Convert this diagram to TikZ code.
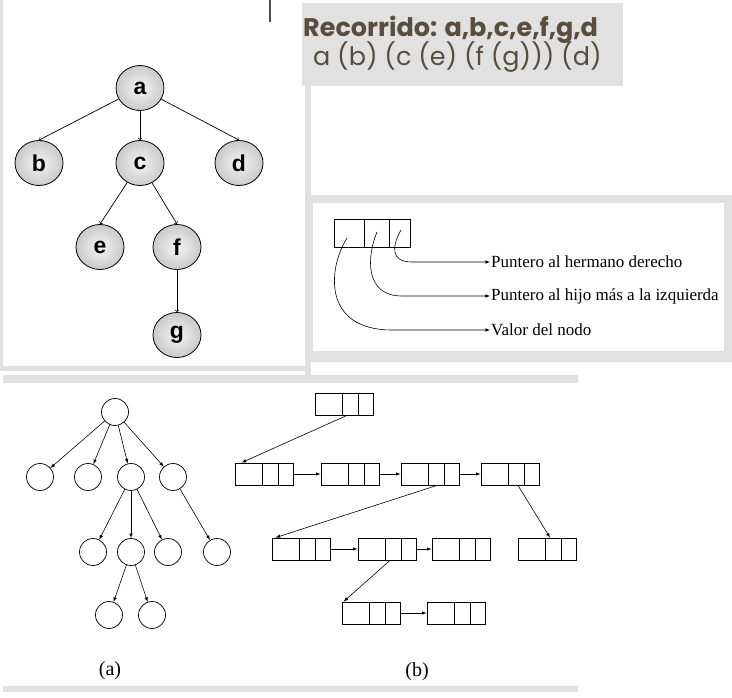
\documentclass[tikz,border=0pt]{standalone}
\usepackage{fontspec}
\setmainfont{Liberation Serif}
\newfontfamily\gothfont{Poppins}
\newfontfamily\arialfont{Liberation Sans}
\usetikzlibrary{shapes.geometric}

\definecolor{marron}{RGB}{88,77,62}
\definecolor{fondo}{RGB}{225,225,225}

\tikzset{
  bola/.style={ellipse, draw, line width=0.8pt, minimum width=48pt, minimum height=45pt,
    inner sep=0pt, inner color=gray!8, outer color=gray!42,
    font=\arialfont\bfseries\fontsize{23}{23}\selectfont},
  circ/.style={circle, draw, line width=0.7pt, minimum size=27pt, inner sep=0pt},
  reg/.style n args={4}{draw, line width=0.8pt, minimum width=#1, minimum height=#2, inner sep=0pt,
    path picture={
      \draw[line width=0.8pt] ([xshift=#3]path picture bounding box.north west) -- ([xshift=#3]path picture bounding box.south west);
      \draw[line width=0.8pt] ([xshift=#4]path picture bounding box.north west) -- ([xshift=#4]path picture bounding box.south west);}},
  nodo/.style={reg={58pt}{22pt}{27pt}{43pt}},
  flecha/.style={-latex, line width=0.6pt},
  etiq/.style={anchor=west, inner sep=1pt, font=\fontsize{17}{18}\selectfont},
}

\begin{document}
\begin{tikzpicture}[x=1pt, y=-1pt]
  \useasboundingbox (0,0) rectangle (732,698);

  % 背景
  \fill[fondo] (0,0) rectangle (3,370);
  \fill[fondo] (0,366) rectangle (311,371);
  \fill[fondo] (305,86) rectangle (311,375);
  \fill[fondo] (302,3) rectangle (623,86);
  \fill[fondo] (307,195) rectangle (732,362);
  \fill[white] (313,203) rectangle (724,351);
  \fill[fondo] (3,375) rectangle (578,383);
  \fill[fondo] (3,686) rectangle (578,692);
  \draw[line width=1.2pt, black!70] (270,0) -- (270,22);

  % 树
  \node[bola] (a) at (140,88) {a};
  \node[bola] (b) at (39,163) {b};
  \node[bola] (c) at (140,163) {c};
  \node[bola] (d) at (239,163) {d};
  \node[bola] (e) at (100,247) {e};
  \node[bola] (f) at (177,247) {f};
  \node[bola] (g) at (177,335) {g};

  \draw[->, line width=0.7pt] (a) -- (b.north);
  \draw[->, line width=0.7pt] (a) -- (c.north);
  \draw[->, line width=0.7pt] (a) -- (d.north);
  \draw[->, line width=0.7pt] (c) -- (e.north);
  \draw[->, line width=0.7pt] (c) -- (f.north);
  \draw[->, line width=0.7pt] (f) -- (g.north);

  % 遍历
  \node[anchor=base west, inner sep=0pt, text=marron, font=\gothfont\bfseries\fontsize{25.5}{26}\selectfont] (rec) at (303,37) {Recorrido: a,b,c,e,f,g,d};
  \node[anchor=base west, inner sep=0pt, text=marron, font=\gothfont\fontsize{25.5}{26}\selectfont] (lis) at (313,66) {a (b) (c (e) (f (g))) (d)};

  % 节点结构
  \node[reg={76pt}{28pt}{30pt}{55pt}] (celda) at (372,233) {};
  \coordinate (p1) at (347,238);
  \coordinate (p2) at (377,232);
  \coordinate (p3) at (401,230);
  \node[etiq] (t1) at (490,262) {Puntero al hermano derecho};
  \node[etiq] (t2) at (490,296) {Puntero al hijo más a la izquierda};
  \node[etiq] (t3) at (490,330) {Valor del nodo};
  \draw[flecha] (p3) .. controls (392,246) and (390,262) .. (412,262) -- (t1.west);
  \draw[flecha] (p2) .. controls (367,256) and (364,296) .. (402,296) -- (t2.west);
  \draw[flecha] (p1) .. controls (328,268) and (322,330) .. (392,330) -- (t3.west);

  % (a)
  \node[circ] (n0) at (115,412) {};
  \node[circ] (n1) at (40,477) {};
  \node[circ] (n2) at (88,477) {};
  \node[circ] (n3) at (131,477) {};
  \node[circ] (n4) at (173,477) {};
  \node[circ] (n5) at (93,552) {};
  \node[circ] (n6) at (131,552) {};
  \node[circ] (n7) at (168,552) {};
  \node[circ] (n8) at (217,552) {};
  \node[circ] (n9) at (109,615) {};
  \node[circ] (n10) at (152,615) {};

  \foreach \u/\v in {n0/n1, n0/n2, n0/n3, n0/n4, n3/n5, n3/n6, n3/n7, n4/n8, n6/n9, n6/n10}
    \draw[flecha] (\u) -- (\v);

  \node[font=\fontsize{20}{20}\selectfont] (la) at (110,671) {(a)};

  % (b)
  \node[nodo] (r0) at (344,404) {};
  \node[nodo] (r1) at (264,474) {};
  \node[nodo] (r2) at (350,474) {};
  \node[nodo] (r3) at (430,474) {};
  \node[nodo] (r4) at (510,474) {};
  \node[nodo] (r5) at (301,549) {};
  \node[nodo] (r6) at (387,549) {};
  \node[nodo] (r7) at (461,549) {};
  \node[nodo] (r8) at (547,549) {};
  \node[nodo] (r9) at (371,613) {};
  \node[nodo] (r10) at (456,613) {};

  \draw[flecha] ([xshift=3pt]r0.south) -- ([xshift=7pt]r1.north west);
  \draw[flecha] (r1) -- (r2);
  \draw[flecha] (r2) -- (r3);
  \draw[flecha] (r3) -- (r4);
  \draw[flecha] ([xshift=7pt]r3.south) -- ([xshift=4pt]r5.north west);
  \draw[flecha] ([xshift=8pt]r4.south) -- ([xshift=3pt]r8.north);
  \draw[flecha] (r5) -- (r6);
  \draw[flecha] (r6) -- (r7);
  \draw[flecha] ([xshift=3pt]r6.south) -- ([xshift=2pt]r9.north west);
  \draw[flecha] (r9) -- (r10);

  \node[font=\fontsize{20}{20}\selectfont] (lb) at (417,672) {(b)};
\end{tikzpicture}
\end{document}
